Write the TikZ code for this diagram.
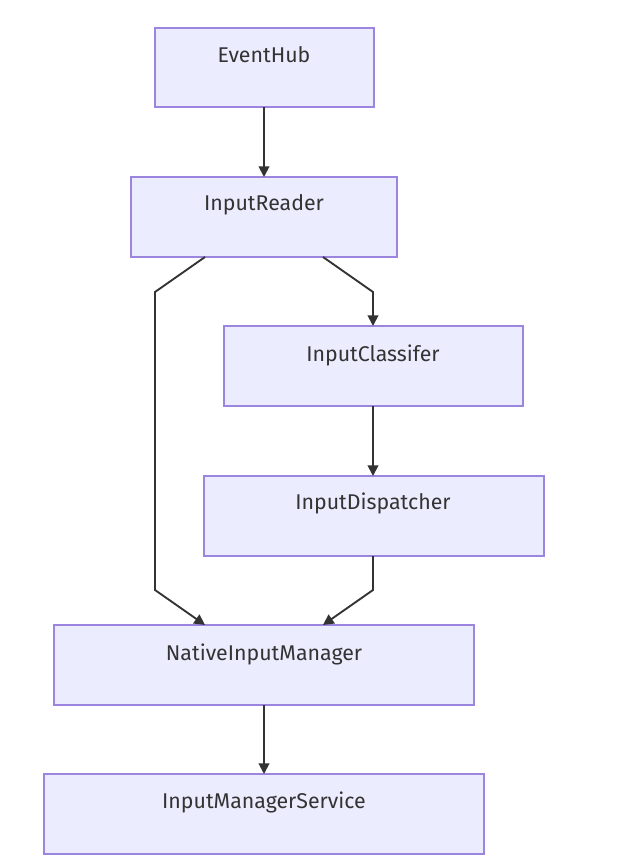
\documentclass[tikz,border=0pt]{standalone}
\usepackage{fontspec}
\setmainfont{Fira Sans}
\usetikzlibrary{arrows.meta}
\definecolor{boxfill}{HTML}{ECECFF}
\definecolor{boxline}{HTML}{9C85DF}
\definecolor{edgecol}{HTML}{333333}
\begin{document}
\begin{tikzpicture}[x=0.75pt,y=-0.75pt,
  box/.style={draw=boxline,fill=boxfill,line width=0.9pt},
  lbl/.style={text=edgecol,font=\fontsize{16}{19}\selectfont,anchor=center,inner sep=0pt},
  edge/.style={draw=edgecol,line width=1.4pt,-{Triangle[length=8pt,width=8pt]}}]
\fill[white] (0,0) rectangle (640,863);
\useasboundingbox (0,0) rectangle (640,863);
% boxes
\draw[box] (155,28) rectangle (374,107);
\draw[box] (131,177) rectangle (397,257);
\draw[box] (224,326) rectangle (523,406);
\draw[box] (204,476) rectangle (544,556);
\draw[box] (54,625) rectangle (474,705);
\draw[box] (44,774) rectangle (484,854);
% labels
\node[lbl] (eh) at (264,55) {EventHub};
\node[lbl] (ir) at (264,205) {InputReader};
\node[lbl] (ic) at (373,355) {InputClassifer};
\node[lbl] (id) at (373,503) {InputDispatcher};
\node[lbl] (nim) at (264,654) {NativeInputManager};
\node[lbl] (ims) at (264,802) {InputManagerService};
% anchor coordinates
\coordinate (ehB) at (264,107);
\coordinate (irT) at (264,177);
\coordinate (irBL) at (205,257);
\coordinate (irBR) at (323,257);
\coordinate (icT) at (373,326);
\coordinate (icB) at (373,406);
\coordinate (idT) at (373,476);
\coordinate (idB) at (373,556);
\coordinate (nimTL) at (205,625);
\coordinate (nimTR) at (323,625);
\coordinate (nimB) at (264,705);
\coordinate (imsT) at (264,774);
% edges
\draw[edge] (ehB) -- (irT);
\draw[edge] (irBL) -- (155,292) -- (155,590) -- (nimTL);
\draw[edge] (irBR) -- (373,292) -- (icT);
\draw[edge] (icB) -- (idT);
\draw[edge] (idB) -- (373,590) -- (nimTR);
\draw[edge] (nimB) -- (imsT);
\end{tikzpicture}
\end{document}
